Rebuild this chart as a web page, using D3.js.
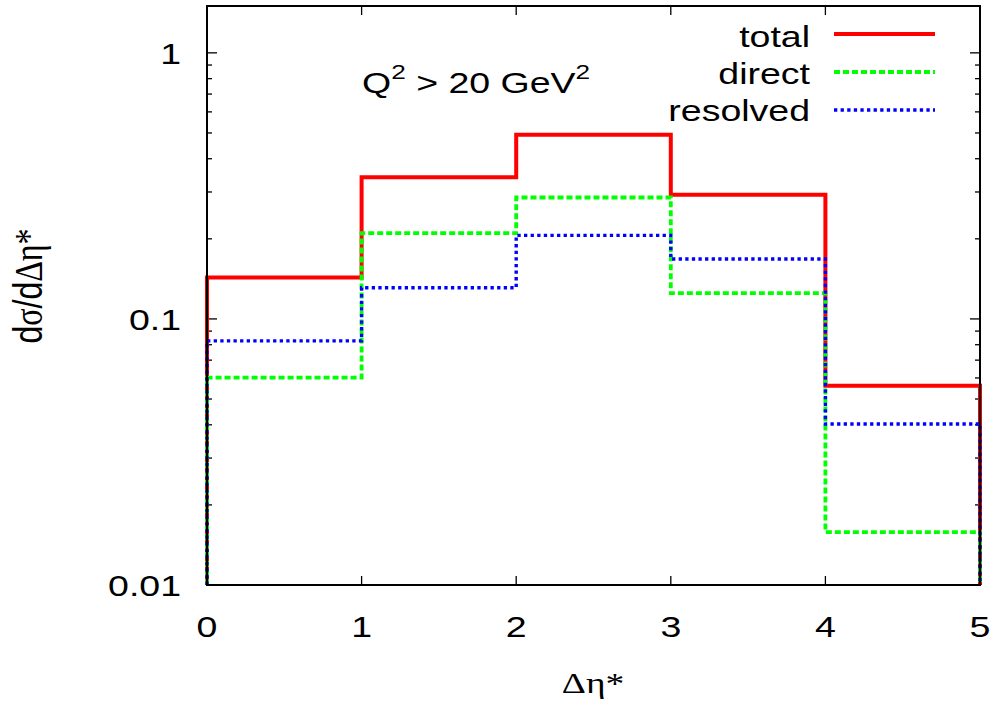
<!DOCTYPE html>
<html><head><meta charset="utf-8">
<script src="https://cdn.jsdelivr.net/npm/d3@7"></script>
<style>body{margin:0;background:#fff;} svg{display:block;}</style>
</head><body>
<svg id="c" width="1004" height="706"></svg>
<script>
const bins = [0, 1, 2, 3, 4, 5];
const totalVals = [0.143, 0.341, 0.492, 0.293, 0.0561];
const directVals = [0.0602, 0.210, 0.286, 0.125, 0.0158];
const resolvedVals = [0.0827, 0.131, 0.206, 0.168, 0.0403];
const xTicks = [0, 1, 2, 3, 4, 5];
const yTicks = [0.01, 0.1, 1];
const yTickLabels = ["0.01", "0.1", "1"];
const seriesNames = ["total", "direct", "resolved"];

const svg = d3.select("#c");
const L = 207, R = 980, T = 6, B = 585;
const SX = 1.25, FS = 30;
const SANS = "'Liberation Sans', Arial, Helvetica, sans-serif";
const SERIF = "'Liberation Serif', 'Times New Roman', serif";
const x = d3.scaleLinear().domain([0, 5]).range([L, R]);
const y = d3.scaleLog().domain([0.01, 1.5]).range([B, T]);

function stext(px, py, str, anchor, size, family) {
  return svg.append("text")
    .attr("transform", `translate(${px},${py}) scale(${SX},1)`)
    .attr("text-anchor", anchor)
    .attr("font-family", family || SANS)
    .attr("font-size", size || FS)
    .attr("fill", "#000")
    .text(str);
}

// ticks
const minor = [];
for (let dec of [0.01, 0.1, 1]) for (let k = 2; k <= 9; k++) { const v = dec * k; if (v <= 1.5) minor.push(v); }
const g = svg.append("g").attr("stroke", "#000").attr("stroke-width", 1.3);
yTicks.forEach(v => {
  g.append("line").attr("x1", L).attr("x2", L + 10).attr("y1", y(v)).attr("y2", y(v));
  g.append("line").attr("x1", R).attr("x2", R - 10).attr("y1", y(v)).attr("y2", y(v));
});
minor.forEach(v => {
  g.append("line").attr("x1", L).attr("x2", L + 5).attr("y1", y(v)).attr("y2", y(v));
  g.append("line").attr("x1", R).attr("x2", R - 5).attr("y1", y(v)).attr("y2", y(v));
});
xTicks.forEach(v => {
  g.append("line").attr("x1", x(v)).attr("x2", x(v)).attr("y1", B).attr("y2", B - 9);
  g.append("line").attr("x1", x(v)).attr("x2", x(v)).attr("y1", T).attr("y2", T + 9);
});

// tick labels
yTicks.forEach((v, i) => stext(181, y(v) + 11, yTickLabels[i], "end"));
xTicks.forEach(v => stext(x(v), 637, String(v), "middle"));

// series
const styles = [
  {vals: totalVals, color: "#ff0000", w: 4, dash: null},
  {vals: directVals, color: "#00ff00", w: 3.8, dash: "6,3"},
  {vals: resolvedVals, color: "#0000ff", w: 3.4, dash: "3.3,3.3"}
];
const line = d3.line().x(d => x(d[0])).y(d => y(d[1]));
styles.forEach(s => {
  const pts = [[bins[0], 0.01]];
  s.vals.forEach((v, i) => { pts.push([bins[i], v]); pts.push([bins[i + 1], v]); });
  pts.push([bins[bins.length - 1], 0.01]);
  svg.append("path").attr("d", line(pts)).attr("fill", "none")
    .attr("stroke", s.color).attr("stroke-width", s.w)
    .attr("stroke-dasharray", s.dash).attr("stroke-linejoin", "miter").attr("stroke-linecap", "butt");
});

// frame
svg.append("rect").attr("x", L).attr("y", T).attr("width", R - L).attr("height", B - T)
  .attr("fill", "none").attr("stroke", "#000").attr("stroke-width", 2);

// legend
const legY = [34, 72, 110];
const legBase = [47, 84, 121];
styles.forEach((s, i) => {
  stext(810, legBase[i], seriesNames[i], "end");
  svg.append("line").attr("x1", 834).attr("x2", 935).attr("y1", legY[i]).attr("y2", legY[i])
    .attr("stroke", s.color).attr("stroke-width", s.w).attr("stroke-dasharray", s.dash);
});

// annotation
const ann = svg.append("text")
  .attr("transform", `translate(362,93) scale(${SX},1)`)
  .attr("font-family", SANS).attr("font-size", FS);
ann.append("tspan").text("Q");
ann.append("tspan").attr("font-size", 21).attr("dy", -14).text("2");
ann.append("tspan").attr("dy", 14).text(" > 20 GeV");
ann.append("tspan").attr("font-size", 21).attr("dy", -14).text("2");

// axis titles
svg.append("text")
  .attr("transform", `translate(593,693) scale(${SX},1)`)
  .attr("text-anchor", "middle")
  .attr("font-family", SERIF).attr("font-size", FS)
  .text("Δη*");

const yt = svg.append("text")
  .attr("transform", `translate(42,286) scale(${SX},1) rotate(-90)`)
  .attr("text-anchor", "middle")
  .attr("font-family", SANS).attr("font-size", 32);
yt.append("tspan").text("d");
yt.append("tspan").attr("font-family", SERIF).text("σ");
yt.append("tspan").text("/d");
yt.append("tspan").attr("font-family", SERIF).text("Δη*");
</script>
</body></html>
